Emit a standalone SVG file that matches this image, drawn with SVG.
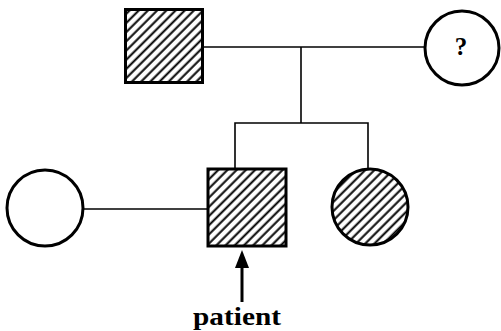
<svg xmlns="http://www.w3.org/2000/svg" width="501" height="331" viewBox="0 0 501 331">
<style>
.sym{stroke:#000;stroke-width:3;}
.hatch{fill:url(#h);}
.open{fill:#fff;}
.ln{stroke:#000;stroke-width:1.6;fill:none;}
.lbl{font-family:"Liberation Serif","DejaVu Serif",serif;font-weight:bold;fill:#000;}
</style>
<defs>
<pattern id="h" patternUnits="userSpaceOnUse" width="6.5" height="6.5" patternTransform="rotate(45)">
<rect width="6.5" height="6.5" fill="#fff"/>
<line x1="1.5" y1="0" x2="1.5" y2="6.5" stroke="#000" stroke-width="2"/>
</pattern>
</defs>
<g id="connectors">
<line class="ln" x1="203" y1="47" x2="425" y2="47"/>
<line class="ln" x1="301" y1="47" x2="301" y2="123"/>
<polyline class="ln" points="235,168 235,123 368,123 368,169"/>
<line class="ln" x1="83" y1="209" x2="207" y2="209"/>
</g>
<g id="grandfather"><rect class="sym hatch" x="125.5" y="9.5" width="77" height="73"/></g>
<g id="grandmother"><circle class="sym open" cx="462" cy="48" r="37"/><text class="lbl" x="461" y="55" font-size="25" text-anchor="middle">?</text></g>
<g id="spouse"><circle class="sym open" cx="45" cy="208" r="38"/></g>
<g id="patient-node"><rect class="sym hatch" x="208" y="169" width="78" height="77"/></g>
<g id="sister"><circle class="sym hatch" cx="370" cy="207" r="38"/></g>
<g id="patient-arrow">
<line x1="242" y1="265" x2="242" y2="302" stroke="#000" stroke-width="3"/>
<polygon points="242,250 235,268 249,268" fill="#000"/>
<text class="lbl" x="193" y="325" font-size="25" textLength="88" lengthAdjust="spacingAndGlyphs">patient</text>
</g>
</svg>
